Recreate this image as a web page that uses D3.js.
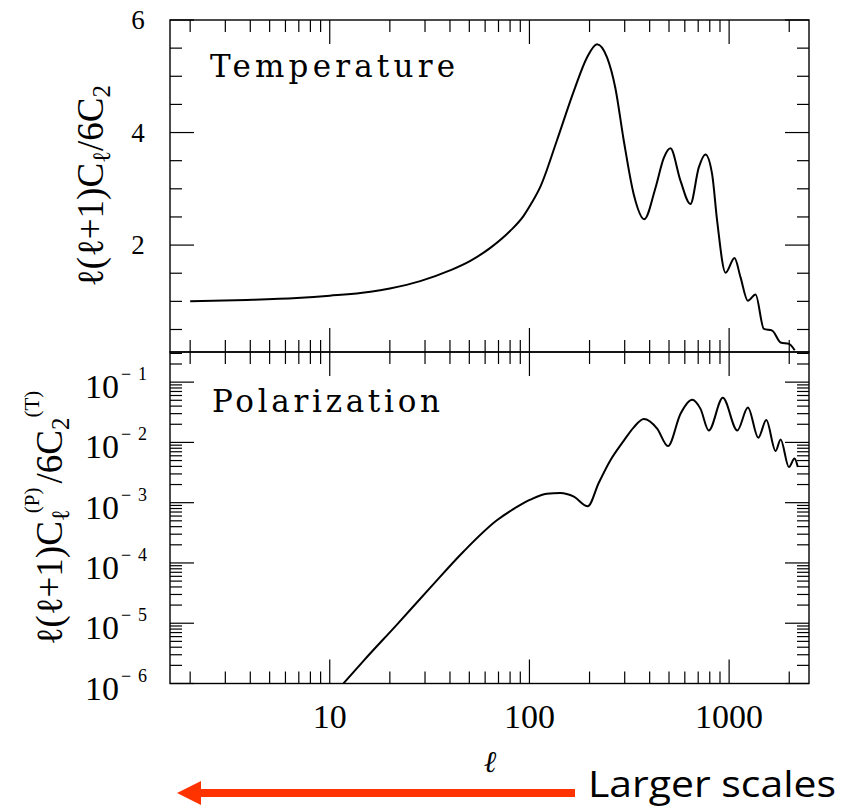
<!DOCTYPE html>
<html>
<head>
<meta charset="utf-8">
<script src="https://cdn.jsdelivr.net/npm/d3@7"></script>
<style>
  html, body { margin: 0; padding: 0; background: #fff; }
  svg { display: block; }
  text { fill: #000; }
</style>
</head>
<body>
<div id="chart"></div>
<script>
// temperature spectrum, l(l+1)C_l / 6C_2
var tempL = [2, 3.84, 6.84, 10, 16, 20, 28.4, 40, 50.6, 63.7, 80, 93.5, 103, 113.5, 137, 167, 194, 218, 245, 269, 297, 333, 376, 428, 471, 508, 571, 640, 705, 761, 822, 871, 960, 1064, 1140, 1241, 1356, 1493, 1644, 1811, 1995, 2130];
var tempV = [1.0, 1.025, 1.06, 1.10, 1.17, 1.23, 1.36, 1.55, 1.72, 1.95, 2.25, 2.52, 2.76, 3.04, 3.85, 4.74, 5.33, 5.57, 5.33, 4.80, 3.85, 2.90, 2.46, 3.02, 3.55, 3.72, 3.14, 2.73, 3.38, 3.61, 3.26, 2.43, 1.51, 1.77, 1.43, 1.01, 1.12, 0.51, 0.48, 0.27, 0.245, 0.13];

// polarization spectrum, l(l+1)C_l^(P) / 6C_2^(T)
var polL = [11.7, 14.8, 21.7, 31.8, 46.8, 68.7, 86.6, 101, 122, 143, 167, 196, 222, 254, 297, 333, 374, 436, 494, 571, 653, 719, 791, 930, 1099, 1242, 1400, 1535, 1709, 1811, 1992, 2126, 2208];
var polV = [1.0e-6, 2.4e-6, 9.5e-6, 3.85e-5, 1.55e-4, 5.1e-4, 8.5e-4, 1.12e-3, 1.41e-3, 1.45e-3, 1.26e-3, 8.7e-4, 2.1e-3, 5.0e-3, 1.07e-2, 1.78e-2, 2.45e-2, 1.7e-2, 8.7e-3, 3.0e-2, 5.1e-2, 3.6e-2, 1.58e-2, 5.5e-2, 1.58e-2, 3.8e-2, 1.2e-2, 2.35e-2, 7.2e-3, 1.12e-2, 3.9e-3, 5.4e-3, 3.9e-3];

// axis ticks
var xMajor = [10, 100, 1000];
var xMinor = [2, 3, 4, 5, 6, 7, 8, 9, 20, 30, 40, 50, 60, 70, 80, 90, 200, 300, 400, 500, 600, 700, 800, 900, 2000];
var xLabels = ["10", "100", "1000"];
var tMajor = [2, 4, 6];
var tMinor = [0.5, 1, 1.5, 2.5, 3, 3.5, 4.5, 5, 5.5];
var tLabels = ["2", "4", "6"];
var pExp = [-6, -5, -4, -3, -2, -1];
var pMult = [2, 3, 4, 5, 6, 7, 8, 9];

(function() {
  var W = 852, H = 808;
  var left = 170, right = 809, topY = 20, mid = 352, bottom = 683.5;
  var majorLen = 24, minorLen = 12;
  var serif = '"Liberation Serif", "DejaVu Serif", serif';
  var wide = '"DejaVu Serif", serif';

  var svg = d3.select("#chart").append("svg")
    .attr("width", W)
    .attr("height", H);

  var x = d3.scaleLog().domain([1.585, 2512]).range([left, right]);
  var yT = d3.scaleLinear().domain([0.1, 6]).range([mid, topY]);
  var yP = d3.scaleLog().domain([1e-6, Math.pow(10, -0.5)]).range([bottom, mid]);

  var pMinor = [];
  pExp.forEach(function(e) {
    pMult.forEach(function(m) {
      var v = m * Math.pow(10, e);
      if (v <= yP.domain()[1]) pMinor.push(v);
    });
  });
  var pMajor = pExp.map(function(e) { return Math.pow(10, e); });

  var ticks = svg.append("g")
    .attr("stroke", "#000")
    .attr("stroke-width", 1.2);

  // x ticks on top and bottom edge of both panels, pointing inward
  function xTicks(yEdge, dir) {
    xMinor.forEach(function(v) {
      ticks.append("line")
        .attr("x1", x(v)).attr("x2", x(v))
        .attr("y1", yEdge).attr("y2", yEdge + dir * minorLen);
    });
    xMajor.forEach(function(v) {
      ticks.append("line")
        .attr("x1", x(v)).attr("x2", x(v))
        .attr("y1", yEdge).attr("y2", yEdge + dir * majorLen);
    });
  }
  xTicks(topY, 1);
  xTicks(mid, -1);
  xTicks(mid, 1);
  xTicks(bottom, -1);

  function yTicks(scale, vals, len) {
    vals.forEach(function(v) {
      var yy = scale(v);
      ticks.append("line")
        .attr("x1", left).attr("x2", left + len)
        .attr("y1", yy).attr("y2", yy);
      ticks.append("line")
        .attr("x1", right).attr("x2", right - len)
        .attr("y1", yy).attr("y2", yy);
    });
  }
  yTicks(yT, tMinor, minorLen);
  yTicks(yT, tMajor, majorLen);
  yTicks(yP, pMinor, minorLen);
  yTicks(yP, pMajor, majorLen);

  // frames
  [[topY, mid], [mid, bottom]].forEach(function(p) {
    svg.append("rect")
      .attr("x", left).attr("y", p[0])
      .attr("width", right - left).attr("height", p[1] - p[0])
      .attr("fill", "none").attr("stroke", "#000").attr("stroke-width", 1.4);
  });

  // curves
  var tLine = d3.line()
    .x(function(d) { return x(d[0]); })
    .y(function(d) { return yT(d[1]); })
    .curve(d3.curveMonotoneX);
  var pLine = d3.line()
    .x(function(d) { return x(d[0]); })
    .y(function(d) { return yP(d[1]); })
    .curve(d3.curveMonotoneX);

  svg.append("path")
    .datum(d3.zip(tempL, tempV))
    .attr("d", tLine)
    .attr("fill", "none").attr("stroke", "#000").attr("stroke-width", 2);
  svg.append("path")
    .datum(d3.zip(polL, polV))
    .attr("d", pLine)
    .attr("fill", "none").attr("stroke", "#000").attr("stroke-width", 2);

  // panel names
  svg.append("text")
    .attr("x", 210).attr("y", 77)
    .style("font-family", wide).style("font-size", "31px")
    .attr("textLength", 245).attr("lengthAdjust", "spacing")
    .text("Temperature");
  svg.append("text")
    .attr("x", 212).attr("y", 412)
    .style("font-family", wide).style("font-size", "31px")
    .attr("textLength", 228).attr("lengthAdjust", "spacing")
    .text("Polarization");

  // tick labels
  tMajor.forEach(function(v, i) {
    svg.append("text")
      .attr("x", 138).attr("y", yT(v) + 9)
      .attr("text-anchor", "middle")
      .style("font-family", serif).style("font-size", "27px")
      .text(tLabels[i]);
  });
  pExp.forEach(function(e) {
    var yy = yP(Math.pow(10, e));
    svg.append("text")
      .attr("x", 119).attr("y", yy + 16)
      .attr("text-anchor", "end")
      .style("font-family", serif).style("font-size", "34px")
      .text("10");
    svg.append("text")
      .attr("x", 121).attr("y", yy - 2)
      .style("font-family", serif).style("font-size", "18px")
      .attr("textLength", 26).attr("lengthAdjust", "spacing")
      .text("\u2212" + Math.abs(e));
  });
  xMajor.forEach(function(v, i) {
    svg.append("text")
      .attr("x", x(v)).attr("y", 728)
      .attr("text-anchor", "middle")
      .style("font-family", serif).style("font-size", "34px")
      .text(xLabels[i]);
  });

  // axis titles
  svg.append("text")
    .attr("x", 490).attr("y", 772)
    .attr("text-anchor", "middle")
    .style("font-family", serif).style("font-size", "30px")
    .style("font-style", "italic")
    .text("\u2113");

  var t1 = svg.append("text")
    .attr("transform", "translate(103,186) rotate(-90)")
    .attr("text-anchor", "middle")
    .style("font-family", serif).style("font-size", "37px");
  t1.append("tspan").text("\u2113(\u2113+1)C");
  t1.append("tspan").style("font-size", "25px").attr("dy", 7).text("\u2113");
  t1.append("tspan").attr("dy", -7).text("/6C");
  t1.append("tspan").style("font-size", "25px").attr("dy", 7).text("2");

  var t2 = svg.append("text")
    .attr("transform", "translate(62,518) rotate(-90)")
    .attr("text-anchor", "middle")
    .style("font-family", serif).style("font-size", "37px");
  t2.append("tspan").text("\u2113(\u2113+1)C");
  t2.append("tspan").style("font-size", "25px").attr("dy", 7).text("\u2113");
  t2.append("tspan").style("font-size", "21px").attr("dx", -4).attr("dy", -30).text("(P)");
  t2.append("tspan").attr("dx", 4).attr("dy", 23).text("/6C");
  t2.append("tspan").style("font-size", "25px").attr("dy", 7).text("2");
  t2.append("tspan").style("font-size", "21px").attr("dy", -30).text("(T)");

  // arrow and note
  svg.append("line")
    .attr("x1", 575).attr("x2", 198)
    .attr("y1", 793).attr("y2", 793)
    .attr("stroke", "#ff3300").attr("stroke-width", 8);
  svg.append("path")
    .attr("d", "M177,793L201,781L201,805Z")
    .attr("fill", "#ff3300");
  svg.append("text")
    .attr("x", 588).attr("y", 797)
    .style("font-family", '"Open Sans", "Noto Sans", sans-serif')
    .style("font-size", "36px")
    .attr("textLength", 248).attr("lengthAdjust", "spacingAndGlyphs")
    .text("Larger scales");
})();
</script>
</body>
</html>
